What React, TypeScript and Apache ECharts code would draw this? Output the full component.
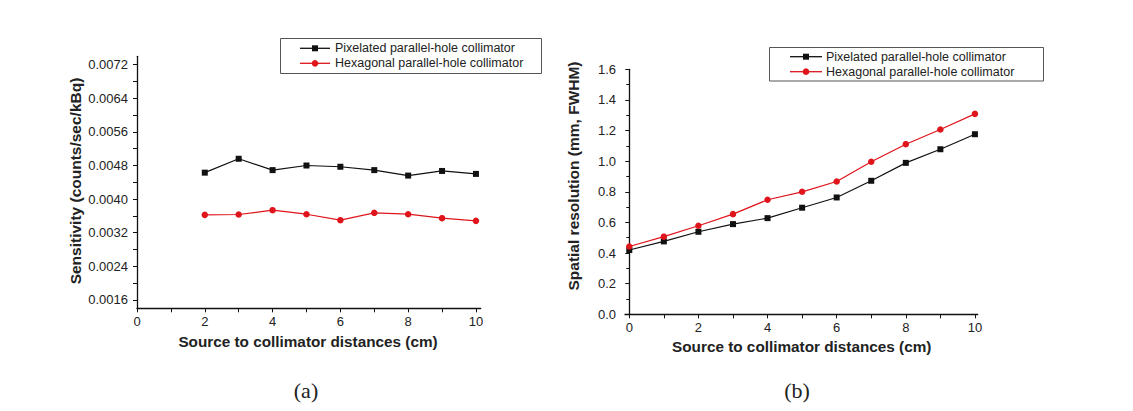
import React, { useEffect, useRef } from "react";
import * as echarts from "echarts";

// ---- data ----
const seriesNames = ["Pixelated parallel-hole collimator", "Hexagonal parallel-hole collimator"];

const distA = [2, 3, 4, 5, 6, 7, 8, 9, 10];
const pixelatedA = [0.00463, 0.00496, 0.00469, 0.0048, 0.00477, 0.00469, 0.00456, 0.00467, 0.0046];
const hexagonalA = [0.003625, 0.003633, 0.003736, 0.00364, 0.003498, 0.003673, 0.00364, 0.003546, 0.003482];

const distB = [0, 1, 2, 3, 4, 5, 6, 7, 8, 9, 10];
const pixelatedB = [0.42, 0.476, 0.539, 0.589, 0.628, 0.696, 0.763, 0.872, 0.989, 1.078, 1.176];
const hexagonalB = [0.443, 0.507, 0.578, 0.654, 0.748, 0.8, 0.867, 0.996, 1.111, 1.207, 1.309];

const xTicks = [0, 1, 2, 3, 4, 5, 6, 7, 8, 9, 10];
const xLabels = [0, 2, 4, 6, 8, 10];
const yLabelsA = [0.0016, 0.0024, 0.0032, 0.004, 0.0048, 0.0056, 0.0064, 0.0072];
const yTicksA = [0.0016, 0.002, 0.0024, 0.0028, 0.0032, 0.0036, 0.004, 0.0044, 0.0048, 0.0052, 0.0056, 0.006, 0.0064, 0.0068, 0.0072];

const xTitle = "Source to collimator distances (cm)";
const yTitleA = "Sensitivity (counts/sec/kBq)";
const yTitleB = "Spatial resolution (mm, FWHM)";

const FONT = "'Liberation Sans', Arial, sans-serif";
const BLACK = "#111";
const RED = "#e0141b";
const TXT = "#222";

function zip(xs: number[], ys: number[]) {
  return xs.map((x, i) => [x, ys[i]]);
}

export default function App() {
  const ref = useRef<HTMLDivElement>(null);
  useEffect(() => {
    if (!ref.current) return;
    const chart = echarts.init(ref.current, null, { renderer: "svg" });

    const axisLine = { show: true, lineStyle: { color: "#111", width: 1.3 } };
    const axisLabel = { color: TXT, fontSize: 13, fontFamily: FONT };

    const legendGraphic = (
      bx: number, by: number, bw: number, bh: number,
      lx0: number, lx1: number, tx: number, rows: number[]
    ) => {
      const mid = (lx0 + lx1) / 2;
      return [
        { type: "rect", shape: { x: bx, y: by, width: bw, height: bh }, style: { fill: "#fff", stroke: "#555", lineWidth: 1 } },
        { type: "line", shape: { x1: lx0, y1: rows[0], x2: lx1, y2: rows[0] }, style: { stroke: BLACK, lineWidth: 1.3 } },
        { type: "rect", shape: { x: mid - 3, y: rows[0] - 3, width: 6, height: 6 }, style: { fill: BLACK } },
        { type: "text", x: tx, y: rows[0], style: { text: seriesNames[0], fill: TXT, font: `12.5px ${FONT}`, verticalAlign: "middle", align: "left" } },
        { type: "line", shape: { x1: lx0, y1: rows[1], x2: lx1, y2: rows[1] }, style: { stroke: RED, lineWidth: 1.3 } },
        { type: "circle", shape: { cx: mid, cy: rows[1], r: 3.3 }, style: { fill: RED } },
        { type: "text", x: tx, y: rows[1], style: { text: seriesNames[1], fill: TXT, font: `12.5px ${FONT}`, verticalAlign: "middle", align: "left" } },
      ];
    };

    const option: any = {
      animation: false,
      backgroundColor: "#fff",
      grid: [
        { left: 137, top: 56.3, width: 343.7, height: 252 },
        { left: 625, top: 69.3, width: 352.7, height: 245 },
      ],
      xAxis: [
        {
          type: "value", gridIndex: 0, min: 0, max: 10.14,
          axisLine, splitLine: { show: false },
          axisTick: { show: true, length: 4, lineStyle: { color: "#111" }, customValues: xTicks },
          axisLabel: { ...axisLabel, margin: 7, customValues: xLabels },
        },
        {
          type: "value", gridIndex: 1, min: -0.124, max: 10.08,
          axisLine, splitLine: { show: false },
          axisTick: { show: true, length: 4, lineStyle: { color: "#111" }, customValues: xTicks },
          axisLabel: { ...axisLabel, margin: 7, customValues: xLabels },
        },
      ],
      yAxis: [
        {
          type: "value", gridIndex: 0, min: 0.0014, max: 0.0074,
          axisLine, splitLine: { show: false },
          axisTick: { show: true, length: 4, lineStyle: { color: "#111" }, customValues: yTicksA },
          axisLabel: { ...axisLabel, margin: 9, customValues: yLabelsA, formatter: (v: number) => v.toFixed(4) },
        },
        {
          type: "value", gridIndex: 1, min: 0, max: 1.6, interval: 0.2,
          axisLine, splitLine: { show: false },
          axisTick: { show: true, length: 4, lineStyle: { color: "#111" } },
          minorTick: { show: true, splitNumber: 2, length: 3, lineStyle: { color: "#111" } },
          minorSplitLine: { show: false },
          axisLabel: { ...axisLabel, margin: 9, formatter: (v: number) => v.toFixed(1) },
        },
      ],
      series: [
        {
          name: seriesNames[0], type: "line", xAxisIndex: 0, yAxisIndex: 0,
          data: zip(distA, pixelatedA), symbol: "rect", symbolSize: 6,
          lineStyle: { color: BLACK, width: 1.2 }, itemStyle: { color: BLACK },
        },
        {
          name: seriesNames[1], type: "line", xAxisIndex: 0, yAxisIndex: 0,
          data: zip(distA, hexagonalA), symbol: "circle", symbolSize: 6.5,
          lineStyle: { color: RED, width: 1.2 }, itemStyle: { color: RED },
        },
        {
          name: seriesNames[0], type: "line", xAxisIndex: 1, yAxisIndex: 1,
          data: zip(distB, pixelatedB), symbol: "rect", symbolSize: 6,
          lineStyle: { color: BLACK, width: 1.2 }, itemStyle: { color: BLACK },
        },
        {
          name: seriesNames[1], type: "line", xAxisIndex: 1, yAxisIndex: 1,
          data: zip(distB, hexagonalB), symbol: "circle", symbolSize: 6.5,
          lineStyle: { color: RED, width: 1.2 }, itemStyle: { color: RED },
        },
      ],
      graphic: [
        ...legendGraphic(280.5, 38.5, 261, 35, 300, 330, 335, [48.3, 63.3]),
        ...legendGraphic(769.5, 47.5, 274, 33.5, 790, 822, 826, [56.7, 71.7]),
        { type: "text", x: 75, y: 181, rotation: Math.PI / 2, style: { text: yTitleA, fill: TXT, font: `bold 15.5px ${FONT}`, align: "center", verticalAlign: "middle" } },
        { type: "text", x: 308, y: 341.7, style: { text: xTitle, fill: TXT, font: `bold 15.3px ${FONT}`, align: "center", verticalAlign: "middle" } },
        { type: "text", x: 573, y: 176, rotation: Math.PI / 2, style: { text: yTitleB, fill: TXT, font: `bold 15.5px ${FONT}`, align: "center", verticalAlign: "middle" } },
        { type: "text", x: 801.7, y: 346.7, style: { text: xTitle, fill: TXT, font: `bold 15.3px ${FONT}`, align: "center", verticalAlign: "middle" } },
        { type: "text", x: 306, y: 390, style: { text: "(a)", fill: TXT, font: `22px 'Liberation Serif', serif`, align: "center", verticalAlign: "middle" } },
        { type: "text", x: 797, y: 390, style: { text: "(b)", fill: TXT, font: `22px 'Liberation Serif', serif`, align: "center", verticalAlign: "middle" } },
      ],
    };
    chart.setOption(option);
    return () => chart.dispose();
  }, []);

  return (
    <div
      ref={ref}
      style={{ position: "absolute", left: 0, top: 0, width: 1133, height: 411, background: "#fff" }}
    />
  );
}
